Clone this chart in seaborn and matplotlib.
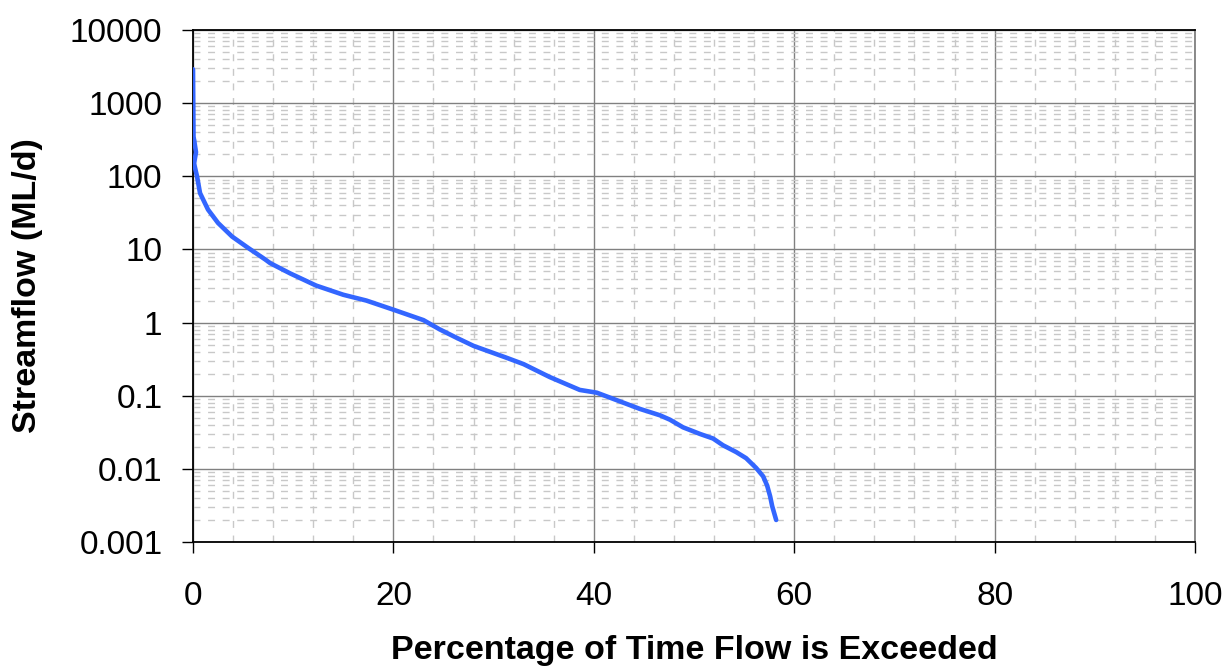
import matplotlib
matplotlib.use("Agg")
import matplotlib.pyplot as plt
import matplotlib.ticker as mticker
import seaborn as sns
import pandas as pd

# Flow duration curve: percentage of time exceeded vs. streamflow (ML/d)
pct_exceeded = [0.0, 0.05, 0.3, 0.3, 0.1, 0.3, 0.4, 0.7, 1.5, 2.5, 3.9, 5.5,
                7.2, 7.7, 9.7, 12.3, 15.0, 17.3, 20.0, 23.0, 24.6, 26.3, 28.0,
                31.3, 33.0, 35.6, 38.6, 40.3, 44.6, 46.6, 47.6, 48.9, 50.6, 51.9,
                52.9, 54.2, 55.2, 56.2, 56.9, 57.3, 57.6, 57.8, 58.2]
streamflow = [2900, 350, 320, 200, 150, 120, 100, 59, 35, 23, 15, 10.5,
              7.3, 6.5, 4.7, 3.2, 2.4, 2.0, 1.5, 1.08, 0.81, 0.62, 0.48,
              0.33, 0.27, 0.18, 0.12, 0.11, 0.066, 0.054, 0.047, 0.037, 0.030, 0.026,
              0.021, 0.017, 0.014, 0.0103, 0.0079, 0.0059, 0.0042, 0.0031, 0.002]

x_ticks = [0, 20, 40, 60, 80, 100]
y_ticks = [0.001, 0.01, 0.1, 1, 10, 100, 1000, 10000]
y_tick_labels = ["0.001", "0.01", "0.1", "1", "10", "100", "1000", "10000"]

sns.set_style("white")
plt.rcParams["font.family"] = ["Liberation Sans", "DejaVu Sans"]
plt.rcParams["text.color"] = "black"
plt.rcParams["axes.labelcolor"] = "black"
plt.rcParams["xtick.color"] = "black"
plt.rcParams["ytick.color"] = "black"

df = pd.DataFrame({"pct": pct_exceeded, "flow": streamflow})

fig = plt.figure(figsize=(12.27, 6.68), dpi=100)
ax = fig.add_axes([193 / 1227, 1 - 542 / 668, (1195 - 193) / 1227, (542 - 30) / 668])

sns.lineplot(data=df, x="pct", y="flow", sort=False, ax=ax,
             color="#3366FF", linewidth=3.3, zorder=5)

ax.set_yscale("log")
ax.set_xlim(0, 100)
ax.set_ylim(0.001, 10000)

ax.set_xticks(x_ticks)
ax.set_xticklabels([str(t) for t in x_ticks])
ax.xaxis.set_minor_locator(mticker.MultipleLocator(4))
ax.set_yticks(y_ticks)
ax.set_yticklabels(y_tick_labels)
ax.yaxis.set_minor_locator(mticker.LogLocator(base=10, subs=range(2, 10), numticks=50))
ax.yaxis.set_minor_formatter(mticker.NullFormatter())

ax.tick_params(axis="y", which="major", direction="out", length=8, width=1,
               color="black", labelcolor="black", labelsize=24, pad=14, left=True)
ax.tick_params(axis="x", which="major", direction="out", length=8, width=1,
               color="black", labelcolor="black", labelsize=24, pad=20, bottom=True)
ax.tick_params(which="minor", length=0)

ax.grid(which="major", color="#808080", linewidth=1.0, linestyle="-", zorder=2)
ax.grid(which="minor", color="#c8c8c8", linewidth=1.0, linestyle=(0, (5, 5.5)), zorder=1)
ax.set_axisbelow(True)

for side in ["left", "bottom", "top"]:
    ax.spines[side].set_color("black")
    ax.spines[side].set_linewidth(1.3)
ax.spines["right"].set_color("#808080")
ax.spines["right"].set_linewidth(1.3)

ax.set_xlabel("Percentage of Time Flow is Exceeded", fontsize=24.5, fontweight="bold",
              color="black")
ax.set_ylabel("Streamflow (ML/d)", fontsize=24.5, fontweight="bold", color="black")
ax.xaxis.label.set_va("center")
ax.yaxis.label.set_va("center")
ax.xaxis.set_label_coords(0.5, (542 - 651) / 512)
ax.yaxis.set_label_coords((28 - 193) / 1002, 0.5)

fig.savefig("out.png", dpi=100, facecolor="white")
